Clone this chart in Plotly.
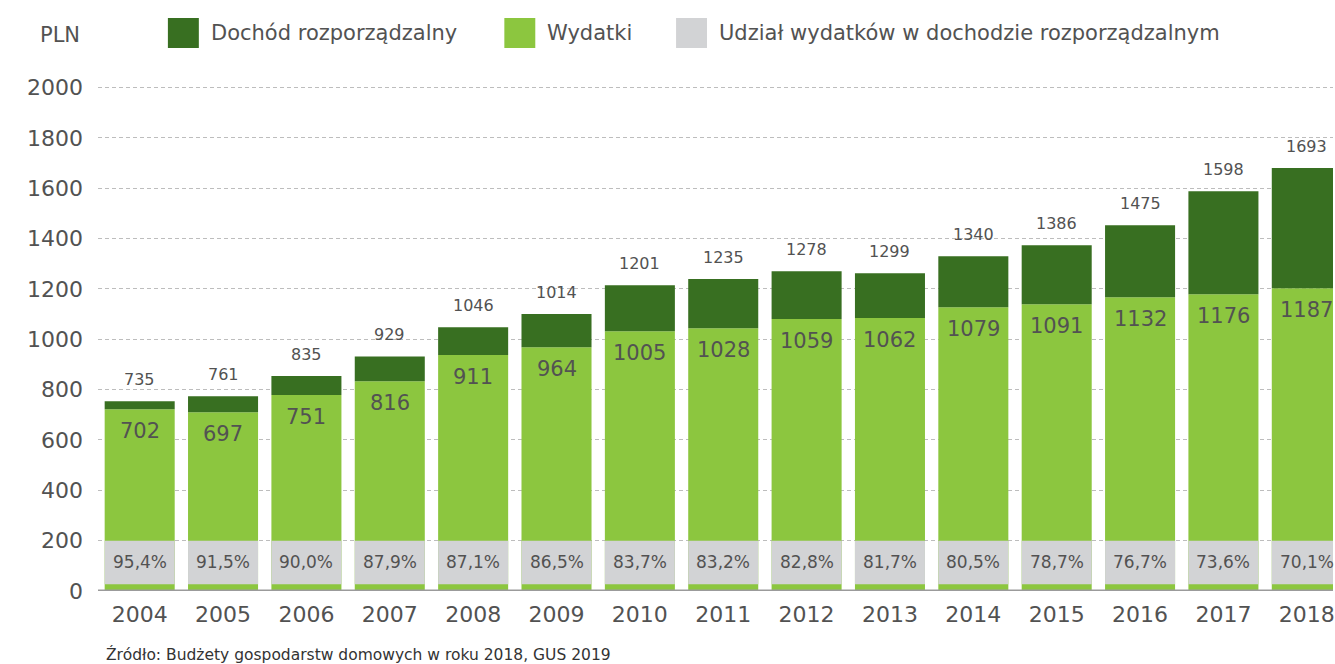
import plotly.graph_objects as go

# ---- data ----
lata = [2004, 2005, 2006, 2007, 2008, 2009, 2010, 2011, 2012, 2013, 2014, 2015, 2016, 2017, 2018]
# bar heights as drawn in the reference (PLN)
dochod = [754, 774, 854, 932, 1048, 1100, 1215, 1239, 1270, 1262, 1330, 1373, 1453, 1588, 1680]
wydatki = [722, 710, 779, 833, 937, 968, 1032, 1044, 1080, 1084, 1127, 1139, 1167, 1179, 1203]
# printed labels
dochod_etykiety = ["735", "761", "835", "929", "1046", "1014", "1201", "1235", "1278", "1299",
                   "1340", "1386", "1475", "1598", "1693"]
wydatki_etykiety = ["702", "697", "751", "816", "911", "964", "1005", "1028", "1059", "1062",
                    "1079", "1091", "1132", "1176", "1187"]
udzial = ["95,4%", "91,5%", "90,0%", "87,9%", "87,1%", "86,5%", "83,7%", "83,2%", "82,8%", "81,7%",
          "80,5%", "78,7%", "76,7%", "73,6%", "70,1%"]
pasek_od, pasek_do = 27, 200
y_ticks = [0, 200, 400, 600, 800, 1000, 1200, 1400, 1600, 1800, 2000]

# ---- style ----
C_DARK = "#386f21"
C_LIGHT = "#8cc63f"
C_GRAY = "#d2d3d5"
C_TEXT = "#525252"
FONT = "DejaVu Sans"

W, H = 1335, 664
ML, MR, MT = 98, 0, 85
MB = H - 591
PW, PH = W - ML - MR, H - MT - MB


def px(xp):
    return (xp - ML) / PW


def py(yp):
    return (H - MB - yp) / PH


fig = go.Figure()
fig.add_bar(x=lata, y=wydatki, marker_color=C_LIGHT, width=0.84, marker_line_width=0,
            name="Wydatki", hoverinfo="skip")
fig.add_bar(x=lata, y=[d - w for d, w in zip(dochod, wydatki)], base=wydatki,
            marker_color=C_DARK, width=0.84, marker_line_width=0,
            name="Dochód rozporządzalny", hoverinfo="skip")
fig.add_bar(x=lata, y=[pasek_do - pasek_od] * len(lata), base=[pasek_od] * len(lata),
            marker_color=C_GRAY, width=0.84, marker_line_width=0,
            name="Udział", hoverinfo="skip")

ann = []
for x, d, w, dl, wl, u in zip(lata, dochod, wydatki, dochod_etykiety, wydatki_etykiety, udzial):
    ann.append(dict(x=x, y=d, text=dl, showarrow=False, yanchor="middle", yshift=22,
                    font=dict(size=16, color=C_TEXT, family=FONT)))
    ann.append(dict(x=x, y=w, text=wl, showarrow=False, yanchor="middle", yshift=-22,
                    font=dict(size=21, color=C_TEXT, family=FONT)))
    ann.append(dict(x=x, y=(pasek_od + pasek_do) / 2, text=u, showarrow=False, yanchor="middle",
                    font=dict(size=17, color=C_TEXT, family=FONT)))

# y-axis title
ann.append(dict(xref="paper", yref="paper", x=px(82), y=py(35), text="PLN", showarrow=False,
                xanchor="right", yanchor="middle", font=dict(size=21, color=C_TEXT, family=FONT)))
# legend
legend_items = [(168, C_DARK, "Dochód rozporządzalny"), (505, C_LIGHT, "Wydatki"),
                (677, C_GRAY, "Udział wydatków w dochodzie rozporządzalnym")]
shapes = []
for x0, col, txt in legend_items:
    shapes.append(dict(type="rect", xref="paper", yref="paper", x0=px(x0), x1=px(x0 + 31),
                       y0=py(48), y1=py(18), fillcolor=col, line_width=0))
    ann.append(dict(xref="paper", yref="paper", x=px(x0 + 41), y=py(33), text=txt, showarrow=False,
                    xanchor="left", yanchor="middle", font=dict(size=21, color=C_TEXT, family=FONT)))
# source
ann.append(dict(xref="paper", yref="paper", x=px(104), y=py(654), text="Źródło: Budżety gospodarstw domowych w roku 2018, GUS 2019",
                showarrow=False, xanchor="left", yanchor="middle",
                font=dict(size=15.5, color="#333333", family=FONT)))
# baseline
shapes.append(dict(type="line", xref="paper", yref="y", x0=0, x1=1, y0=0, y1=0,
                   line=dict(color="#9b9b9b", width=3), layer="above"))

fig.update_layout(
    width=W, height=H, barmode="overlay", showlegend=False,
    margin=dict(l=ML, r=MR, t=MT, b=MB, pad=0),
    paper_bgcolor="white", plot_bgcolor="white",
    font=dict(family=FONT, color=C_TEXT),
    annotations=ann, shapes=shapes,
    xaxis=dict(range=[2003.5, 2003.5 + PW / 83.5], tickvals=lata, ticktext=[str(v) for v in lata],
               showgrid=False, zeroline=False, showline=False, ticks="",
               tickfont=dict(size=22, color=C_TEXT, family=FONT), ticklabelstandoff=8,
               ticklabeloverflow="allow", fixedrange=True),
    yaxis=dict(range=[0, 2010], tickvals=y_ticks, showgrid=True, gridcolor="#bdbdbd", gridwidth=1,
               griddash="4px,3px", zeroline=False, showline=False, ticks="",
               tickfont=dict(size=22, color=C_TEXT, family=FONT), ticklabelstandoff=14, fixedrange=True),
)

fig.write_html(
    "out.html",
    config={"displayModeBar": False},
    post_script="document.body.style.margin='0';document.body.style.overflow='hidden';",
)
